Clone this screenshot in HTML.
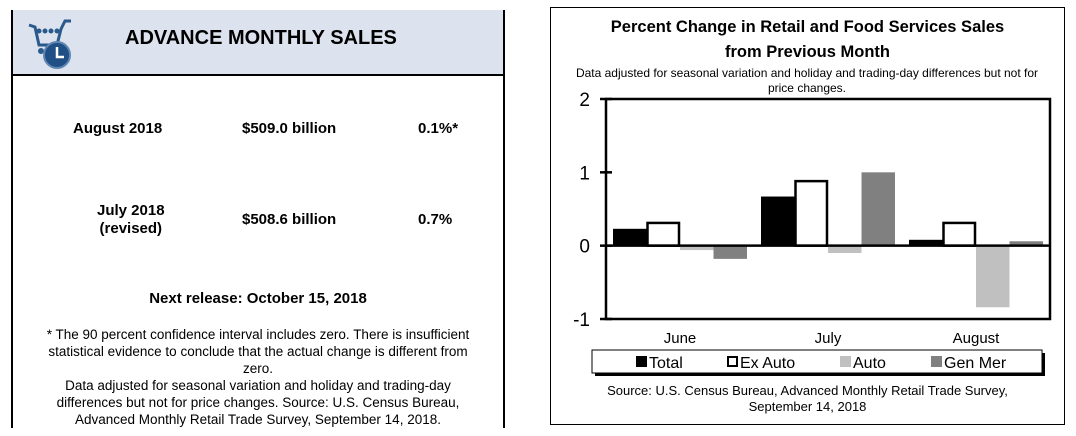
<!DOCTYPE html>
<html><head><meta charset="utf-8">
<style>
body{margin:0;width:1076px;height:436px;background:#fff;position:relative;overflow:hidden;font-family:"Liberation Sans",Arial,sans-serif;}
.abs{position:absolute;}
.b{font-weight:bold;font-size:15px;color:#000;}
</style></head><body>
<div class="abs" style="left:11px;top:10px;width:490px;height:418px;border-left:2px solid #000;border-right:2px solid #000;">
  <div class="abs" style="left:0;top:0;width:490px;height:64px;background:#dce3ee;border-bottom:2px solid #000;">
    <svg class="abs" style="left:14px;top:7px" width="56" height="54" viewBox="0 0 56 54">
      <path d="M2 8 L8 10 L12 28 L30 28 L34 12 L38 4 L44 4" stroke="#2a5a8c" stroke-width="3" fill="none"/>
      <circle cx="12" cy="14" r="2.5" fill="#2a5a8c"/><circle cx="18" cy="14" r="2.5" fill="#2a5a8c"/><circle cx="24" cy="14" r="2.5" fill="#2a5a8c"/><circle cx="30" cy="14" r="2.5" fill="#2a5a8c"/>
      <circle cx="14" cy="34" r="3" fill="#2a5a8c"/>
      <circle cx="30" cy="38" r="13" fill="#1f4f85" stroke="#5f85b0" stroke-width="2"/>
      <path d="M30 30 L30 40 L37 40" stroke="#fff" stroke-width="2.5" fill="none"/>
    </svg>
    <div class="abs" style="left:112px;top:17px;font-size:20px;font-weight:bold;">ADVANCE MONTHLY SALES</div>
  </div>
  <div class="abs b" style="left:60px;top:110px;">August 2018</div>
  <div class="abs b" style="left:229px;top:110px;">$509.0 billion</div>
  <div class="abs b" style="left:405px;top:110px;">0.1%*</div>
  <div class="abs b" style="left:84px;top:192px;text-align:center;line-height:18px;">July 2018<br>(revised)</div>
  <div class="abs b" style="left:229px;top:201px;">$508.6 billion</div>
  <div class="abs b" style="left:405px;top:201px;">0.7%</div>
  <div class="abs b" style="left:0;width:490px;text-align:center;top:280px;">Next release: October 15, 2018</div>
  <div class="abs" style="left:25px;width:440px;text-align:center;top:316px;font-size:13.5px;line-height:17px;">* The 90 percent confidence interval includes zero. There is insufficient statistical evidence to conclude that the actual change is different from zero.<br>Data adjusted for seasonal variation and holiday and trading-day differences but not for price changes. Source: U.S. Census Bureau, Advanced Monthly Retail Trade Survey, September 14, 2018.</div>
</div>

<div class="abs" style="left:550px;top:7px;width:513px;height:416px;border:1.5px solid #000;"></div>
<div class="abs" style="left:551px;width:513px;top:15px;text-align:center;font-weight:bold;font-size:16.5px;line-height:25px;">Percent Change in Retail and Food Services Sales<br>from Previous Month</div>
<div class="abs" style="left:565px;width:484px;top:66px;text-align:center;font-size:12px;line-height:15px;">Data adjusted for seasonal variation and holiday and trading-day differences but not for price changes.</div>
<svg class="abs" id="chart" style="left:0;top:0" width="1076" height="436"></svg>
<div class="abs" style="left:551px;width:513px;top:383px;text-align:center;font-size:13px;line-height:16px;">Source: U.S. Census Bureau, Advanced Monthly Retail Trade Survey,<br>September 14, 2018</div>

<script>
const categories=["June","July","August"];
const seriesNames=["Total","Ex Auto","Auto","Gen Mer"];
const total=[0.23,0.67,0.08];
const exAuto=[0.31,0.88,0.31];
const auto=[-0.06,-0.10,-0.84];
const genMer=[-0.18,1.0,0.06];
const yTicks=[2,1,0,-1];
const series=[total,exAuto,auto,genMer];
const fills=["#000","#fff","#c0c0c0","#808080"];
const NS="http://www.w3.org/2000/svg";
const svg=document.getElementById('chart');
const L=606,R=1050,T=99,B=319,yMax=2,yMin=-1;
const y=v=>T+(yMax-v)/(yMax-yMin)*(B-T);
const gw=(R-L)/categories.length, bw=33.5, pad=7;
const x=(ci,si)=>L+ci*gw+pad+si*bw;
function mk(t,a){const e=document.createElementNS(NS,t);for(const k in a)e.setAttribute(k,a[k]);svg.appendChild(e);return e;}
categories.forEach((c,ci)=>{
  series.forEach((s,si)=>{
    const v=s[ci];
    const r=mk('rect',{x:x(ci,si)+(si==1?1:0),y:Math.min(y(v),y(0)),width:bw-(si==1?2:0),height:Math.abs(y(v)-y(0)),fill:fills[si],stroke:si==1?'#000':'none','stroke-width':si==1?2.5:0});
    
    
  });
  const t=mk('text',{x:L+ci*gw+gw/2,y:343,'text-anchor':'middle','font-size':15,'font-family':'Liberation Sans, sans-serif'});
  t.textContent=c;
  
  
});
const box=mk('rect',{x:L,y:T,width:R-L,height:B-T,fill:'none',stroke:'#000','stroke-width':2.5});


const zl=mk('line',{x1:L,x2:R,y1:y(0),y2:y(0),stroke:'#000','stroke-width':2.5});


yTicks.forEach(v=>{
  const tk=mk('line',{x1:L-6,x2:L+6,y1:y(v),y2:y(v),stroke:'#000','stroke-width':2.5});
  
  
  const t=mk('text',{x:L-16,y:y(v)+7,'text-anchor':'end','font-size':19,'font-family':'Liberation Sans, sans-serif'});
  t.textContent=v;
  
  
});
const sh=mk('rect',{x:595,y:353,width:450,height:23,fill:'#000'});


const lg=mk('rect',{x:592,y:350,width:450,height:23,fill:'#fff',stroke:'#000','stroke-width':1});


const lx=[636,727,840,931];
seriesNames.forEach((n,i)=>{
  const sw=mk('rect',{x:lx[i]+(i==1?1:0),y:356+(i==1?1:0),width:i==1?9:11,height:i==1?9:11,fill:fills[i],stroke:i==1?'#000':'none','stroke-width':i==1?2:0});
  
  
  const t=mk('text',{x:lx[i]+13,y:368,'font-size':16,'font-family':'Liberation Sans, sans-serif'});
  t.textContent=n;
  
  
});
</script>
</body></html>
